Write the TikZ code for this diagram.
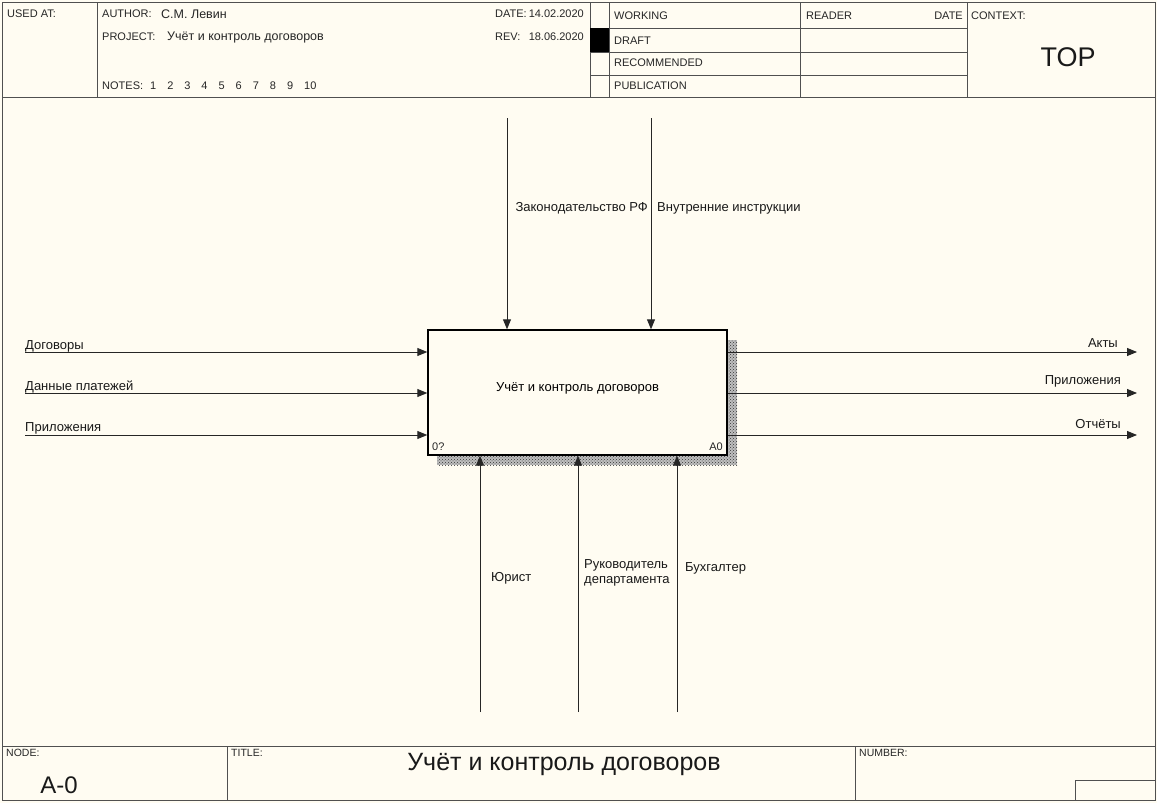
\documentclass[tikz,border=0pt]{standalone}
\usepackage{fontspec}
\setmainfont{Liberation Sans}
\usetikzlibrary{arrows.meta,positioning,patterns}
\definecolor{paper}{HTML}{FFFCF2}
\definecolor{rule}{HTML}{505050}

\begin{document}
\begin{tikzpicture}[x=1pt, y=-1pt,
  font=\fontsize{11}{13}\selectfont,
  frame/.style={draw=rule, line width=0.9pt},
  cell/.style={inner sep=0pt, font=\fontsize{11}{13}\selectfont, text=black!85},
  value/.style={inner sep=0pt, font=\fontsize{12.5}{15}\selectfont, text=black!85},
  big/.style={inner sep=0pt, font=\fontsize{24}{26}\selectfont, text=black!90},
  func/.style={draw=black, line width=1.4pt, fill=paper, minimum width=299pt,
    minimum height=125pt, inner sep=0pt, font=\fontsize{13}{15}\selectfont},
  flow/.style={-{Triangle[length=10pt,width=8pt]}, line width=0.9pt, black!85},
  lbl/.style={inner sep=0pt, font=\fontsize{13}{15}\selectfont, align=left, text=black!90}
]
\useasboundingbox (0,0) rectangle (1157,803);
\fill[paper] (0,0) rectangle (1157,803);
% outer frame
\draw[frame] (2,2) rectangle (1155,800);
% header
\draw[frame] (2,97) -- (1155,97);
\draw[frame] (97,2) -- (97,97);
\draw[frame] (590,2) -- (590,97);
\draw[frame] (609,2) -- (609,97);
\draw[frame] (800,2) -- (800,97);
\draw[frame] (967,2) -- (967,97);
\draw[frame] (590,28) -- (967,28);
\draw[frame] (590,52) -- (967,52);
\draw[frame] (590,75) -- (967,75);
\fill[black] (590,28) rectangle (609,52);
\node[cell, anchor=west] (usedat) at (7,14) {USED AT:};
\node[cell, anchor=west] (author) at (102,14) {AUTHOR:};
\node[value, anchor=west] (authorval) at (161,14) {С.М. Левин};
\node[cell, anchor=west] (project) at (102,37) {PROJECT:};
\node[value, anchor=west] (projectval) at (167,37) {Учёт и контроль договоров};
\node[cell, anchor=west] (notes) at (102,86)
  {NOTES:\hspace{7pt}1\hspace{11pt}2\hspace{11pt}3\hspace{11pt}4\hspace{11pt}5\hspace{11pt}6\hspace{11pt}7\hspace{11pt}8\hspace{11pt}9\hspace{11pt}10};
\node[cell, anchor=west] (datekey) at (495,14) {DATE:};
\node[cell, anchor=east] (dateval) at (584,14) {14.02.2020};
\node[cell, anchor=west] (revkey) at (495,37) {REV:};
\node[cell, anchor=east] (revval) at (584,37) {18.06.2020};
\node[cell, anchor=west] (working) at (614,16) {WORKING};
\node[cell, anchor=west] (draft) at (614,41) {DRAFT};
\node[cell, anchor=west] (recommended) at (614,63) {RECOMMENDED};
\node[cell, anchor=west] (publication) at (614,86) {PUBLICATION};
\node[cell, anchor=west] (reader) at (806,16) {READER};
\node[cell, anchor=east] (readerdate) at (963,16) {DATE};
\node[cell, anchor=west] (context) at (971,16) {CONTEXT:};
\node[big, font=\fontsize{27}{29}\selectfont] (top) at (1068,57) {TOP};
% function box with hatched shadow
\fill[black!25] (437,340) rectangle (737,465);
\fill[pattern=crosshatch dots, pattern color=black!80] (437,340) rectangle (737,465);
\node[func] (box) at (577.5,392.5) {\raisebox{10pt}{Учёт и контроль договоров}};
\node[cell, anchor=south west] (boxnum) at (432,451) {0?};
\node[cell, anchor=south east] (boxid) at (723,451) {A0};
% controls
\coordinate (law) at (507,118);
\coordinate (rules) at (651,118);
\draw[flow] (law) -- (law |- box.north);
\draw[flow] (rules) -- (rules |- box.north);
\node[lbl, anchor=east] (lawlbl) at (648,208) {Законодательство РФ};
\node[lbl, anchor=west] (ruleslbl) at (657,208) {Внутренние инструкции};
% inputs
\coordinate (in1) at (25,352);
\coordinate (in2) at (25,393);
\coordinate (in3) at (25,435);
\draw[flow] (in1) -- (in1 -| box.west);
\draw[flow] (in2) -- (in2 -| box.west);
\draw[flow] (in3) -- (in3 -| box.west);
\node[lbl, anchor=base west] (in1lbl) at (25,349) {Договоры};
\node[lbl, anchor=base west] (in2lbl) at (25,390) {Данные платежей};
\node[lbl, anchor=base west] (in3lbl) at (25,431) {Приложения};
% outputs
\coordinate (out1) at (1137,352);
\coordinate (out2) at (1137,393);
\coordinate (out3) at (1137,435);
\draw[flow] (out1 -| box.east) -- (out1);
\draw[flow] (out2 -| box.east) -- (out2);
\draw[flow] (out3 -| box.east) -- (out3);
\node[lbl, anchor=base east] (out1lbl) at (1118,347) {Акты};
\node[lbl, anchor=base east] (out2lbl) at (1121,384) {Приложения};
\node[lbl, anchor=base east] (out3lbl) at (1121,428) {Отчёты};
% mechanisms
\coordinate (mech1) at (480,712);
\coordinate (mech2) at (578,712);
\coordinate (mech3) at (677,712);
\draw[flow] (mech1) -- (mech1 |- box.south);
\draw[flow] (mech2) -- (mech2 |- box.south);
\draw[flow] (mech3) -- (mech3 |- box.south);
\node[lbl, anchor=west] (mech1lbl) at (491,578) {Юрист};
\node[lbl, anchor=west] (mech2lbl) at (584,573) {Руководитель\\департамента};
\node[lbl, anchor=west] (mech3lbl) at (685,568) {Бухгалтер};
% footer
\draw[frame] (2,746) -- (1155,746);
\draw[frame] (227,746) -- (227,800);
\draw[frame] (855,746) -- (855,800);
\draw[frame] (1075,780) rectangle (1155,800);
\node[cell, anchor=north west, font=\fontsize{10.5}{12}\selectfont] (nodekey) at (6,749) {NODE:};
\node[big] (nodeval) at (59,785) {A-0};
\node[cell, anchor=north west, font=\fontsize{10.5}{12}\selectfont] (titlekey) at (231,749) {TITLE:};
\node[big, font=\fontsize{25}{27}\selectfont] (title) at (564,764) {Учёт и контроль договоров};
\node[cell, anchor=north west, font=\fontsize{10.5}{12}\selectfont] (numberkey) at (859,749) {NUMBER:};
\end{tikzpicture}
\end{document}
